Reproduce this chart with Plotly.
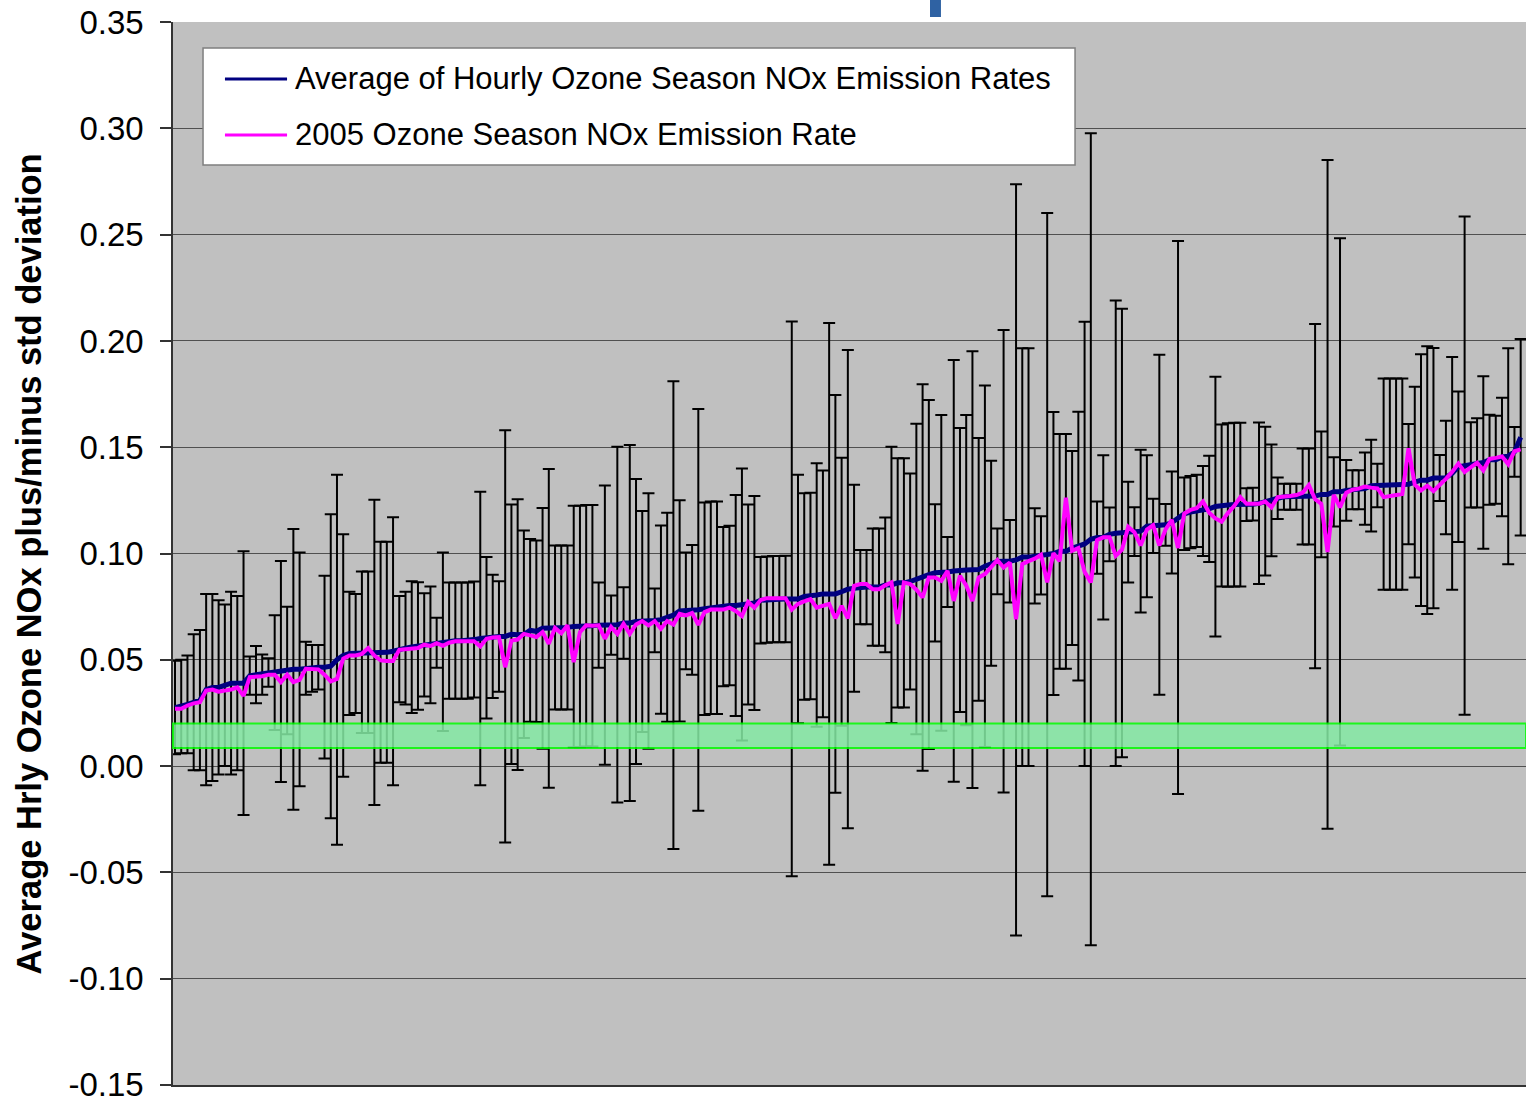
import plotly.graph_objects as go

# Unit-level ozone season NOx emission rates (lb/mmBtu), sorted by hourly average
avg_hourly = [
    0.0275, 0.028, 0.029, 0.030, 0.031, 0.036, 0.037, 0.037, 0.038, 0.039,
    0.039, 0.039, 0.0425, 0.043, 0.043, 0.044, 0.044, 0.0445, 0.045, 0.0455,
    0.0455, 0.046, 0.046, 0.0465, 0.0465, 0.047, 0.050, 0.052, 0.053, 0.053,
    0.0535, 0.0535, 0.0535, 0.0535, 0.0535, 0.054, 0.055, 0.0555, 0.056, 0.0565,
    0.057, 0.057, 0.058, 0.0585, 0.059, 0.059, 0.059, 0.059, 0.0595, 0.060,
    0.0604, 0.061, 0.061, 0.061, 0.062, 0.0618, 0.062, 0.0638, 0.0634, 0.0648,
    0.0648, 0.0652, 0.0652, 0.0652, 0.0657, 0.0657, 0.066, 0.066, 0.0663, 0.0663,
    0.0663, 0.0665, 0.0673, 0.0673, 0.068, 0.068, 0.0683, 0.0685, 0.0689, 0.070,
    0.071, 0.073, 0.073, 0.0735, 0.0735, 0.074, 0.0745, 0.0745, 0.075, 0.0755,
    0.0755, 0.076, 0.076, 0.0767, 0.078, 0.0783, 0.0785, 0.0785, 0.0786, 0.0786,
    0.0786, 0.0798, 0.080, 0.0805, 0.081, 0.081, 0.081, 0.082, 0.0832, 0.0837,
    0.0842, 0.0842, 0.0842, 0.0842, 0.0852, 0.0852, 0.0862, 0.0862, 0.0868, 0.088,
    0.0887, 0.0901, 0.0909, 0.0909, 0.0913, 0.0918, 0.0922, 0.0922, 0.0924, 0.0925,
    0.094, 0.0954, 0.0963, 0.0964, 0.0964, 0.097, 0.0983, 0.0983, 0.0989, 0.0991,
    0.0995, 0.100, 0.101, 0.101, 0.1026, 0.1035, 0.1045, 0.1067, 0.1075, 0.1076,
    0.109, 0.1095, 0.1097, 0.110, 0.1103, 0.1105, 0.1128, 0.113, 0.1135, 0.1135,
    0.1146, 0.1169, 0.1187, 0.1195, 0.120, 0.120, 0.121, 0.1221, 0.1226, 0.1228,
    0.123, 0.123, 0.123, 0.1232, 0.1236, 0.1246, 0.125, 0.126, 0.1267, 0.1267,
    0.1267, 0.1268, 0.1268, 0.127, 0.1278, 0.1278, 0.129, 0.129, 0.1297, 0.130,
    0.130, 0.1305, 0.1319, 0.132, 0.1326, 0.1326, 0.1326, 0.1326, 0.1326, 0.1336,
    0.1345, 0.1345, 0.1355, 0.1355, 0.1357, 0.1377, 0.1408, 0.1413, 0.1417, 0.1426,
    0.1428, 0.1441, 0.1441, 0.1454, 0.1458, 0.1478, 0.1547,
]

std_dev = [
    0.022, 0.022, 0.023, 0.032, 0.033, 0.045, 0.044, 0.041, 0.038, 0.043,
    0.041, 0.062, 0.009, 0.0135, 0.0095, 0.0067, 0.027, 0.052, 0.030, 0.066,
    0.055, 0.0125, 0.011, 0.0105, 0.043, 0.0715, 0.087, 0.057, 0.029, 0.028,
    0.038, 0.038, 0.0718, 0.052, 0.052, 0.063, 0.025, 0.0265, 0.031, 0.030,
    0.0243, 0.0275, 0.0118, 0.042, 0.0273, 0.0273, 0.0273, 0.0273, 0.0273, 0.069,
    0.038, 0.029, 0.026, 0.097, 0.061, 0.0637, 0.0488, 0.043, 0.0427, 0.0566,
    0.075, 0.0386, 0.0386, 0.0386, 0.0568, 0.0568, 0.0568, 0.0568, 0.0201, 0.0657,
    0.0139, 0.0837, 0.0168, 0.0837, 0.067, 0.052, 0.0601, 0.015, 0.0443, 0.0492,
    0.110, 0.052, 0.0275, 0.0305, 0.0945, 0.050, 0.050, 0.050, 0.0375, 0.0375,
    0.052, 0.064, 0.047, 0.0503, 0.0203, 0.0203, 0.0203, 0.0203, 0.0203, 0.1305,
    0.0585, 0.0486, 0.0486, 0.062, 0.058, 0.1274, 0.0936, 0.063, 0.1125, 0.0487,
    0.0175, 0.0175, 0.0276, 0.0276, 0.0317, 0.065, 0.0586, 0.0586, 0.0508, 0.073,
    0.0909, 0.0821, 0.0323, 0.0743, 0.0165, 0.0992, 0.0668, 0.073, 0.1027, 0.0618,
    0.085, 0.0482, 0.0155, 0.1088, 0.0194, 0.1767, 0.0983, 0.0983, 0.0224, 0.0184,
    0.1607, 0.0666, 0.0552, 0.0552, 0.0456, 0.0632, 0.1045, 0.191, 0.017, 0.0386,
    0.0127, 0.1095, 0.1055, 0.0237, 0.0115, 0.0383, 0.0334, 0.0128, 0.080, 0.0098,
    0.024, 0.1301, 0.017, 0.017, 0.017, 0.0212, 0.025, 0.0611, 0.0381, 0.0385,
    0.0385, 0.0385, 0.0077, 0.0077, 0.038, 0.035, 0.0263, 0.0098, 0.0061, 0.0061,
    0.0061, 0.0226, 0.0226, 0.081, 0.0296, 0.1573, 0.0163, 0.1193, 0.0143, 0.0092,
    0.0092, 0.017, 0.0216, 0.0102, 0.0497, 0.0497, 0.0497, 0.0497, 0.0283, 0.0449,
    0.0592, 0.063, 0.0612, 0.0108, 0.0267, 0.0548, 0.0354, 0.1172, 0.020, 0.021,
    0.0406, 0.0212, 0.0207, 0.0279, 0.0508, 0.0117, 0.0462,
]

rate_2005 = [
    0.027, 0.027, 0.0285, 0.0295, 0.030, 0.0355, 0.036, 0.035, 0.0355, 0.036,
    0.037, 0.033, 0.0418, 0.042, 0.0423, 0.043, 0.043, 0.0395, 0.043, 0.0395,
    0.0405, 0.0458, 0.0458, 0.0455, 0.043, 0.0398, 0.041, 0.0505, 0.052, 0.052,
    0.0528, 0.0555, 0.052, 0.0497, 0.0494, 0.0494, 0.0547, 0.055, 0.0552, 0.0555,
    0.0571, 0.0565, 0.0578, 0.0566, 0.058, 0.0587, 0.0587, 0.0587, 0.0587, 0.0563,
    0.0599, 0.0605, 0.0607, 0.0465, 0.059, 0.0595, 0.0622, 0.0615, 0.0607, 0.063,
    0.0575, 0.065, 0.0625, 0.0662, 0.0489, 0.063, 0.0662, 0.066, 0.0662, 0.0599,
    0.0654, 0.0622, 0.0669, 0.0622, 0.0666, 0.0682, 0.0662, 0.0682, 0.0646, 0.0682,
    0.0666, 0.0716, 0.0709, 0.072, 0.0664, 0.0724, 0.0736, 0.0736, 0.0736, 0.0745,
    0.073, 0.0706, 0.0772, 0.0745, 0.0781, 0.079, 0.079, 0.079, 0.079, 0.0736,
    0.0763, 0.0775, 0.0785, 0.0745, 0.0755, 0.0763, 0.0695, 0.0754, 0.0695, 0.0848,
    0.0856, 0.0856, 0.0832, 0.0832, 0.085, 0.0864, 0.0668, 0.0864, 0.0856, 0.083,
    0.0793, 0.0887, 0.0887, 0.0871, 0.0918, 0.0777, 0.0895, 0.085, 0.0777, 0.0887,
    0.0903, 0.0935, 0.0969, 0.0934, 0.0958, 0.0691, 0.095, 0.0964, 0.0976, 0.0994,
    0.0864, 0.1001, 0.0964, 0.1262, 0.1013, 0.1026, 0.0914, 0.0864, 0.1063, 0.1076,
    0.1076, 0.0989, 0.1018, 0.1125, 0.110, 0.1038, 0.1113, 0.1133, 0.1038, 0.1113,
    0.1158, 0.1026, 0.1188, 0.1205, 0.1213, 0.1244, 0.1192, 0.1165, 0.115, 0.119,
    0.1223, 0.1265, 0.1234, 0.1234, 0.1234, 0.1244, 0.1217, 0.1265, 0.127, 0.1271,
    0.1275, 0.1286, 0.1322, 0.1255, 0.1234, 0.1007, 0.1276, 0.1217, 0.1286, 0.130,
    0.1305, 0.1315, 0.131, 0.1306, 0.1265, 0.127, 0.1275, 0.128, 0.1495, 0.1324,
    0.1297, 0.1319, 0.1294, 0.132, 0.1351, 0.1384, 0.1423, 0.1384, 0.1405, 0.1427,
    0.1391, 0.1445, 0.145, 0.1456, 0.142, 0.1481, 0.149,
]

tick_values = [-0.15, -0.10, -0.05, 0.00, 0.05, 0.10, 0.15, 0.20, 0.25, 0.30, 0.35]
tick_labels = ["-0.15", "-0.10", "-0.05", "0.00", "0.05", "0.10", "0.15",
               "0.20", "0.25", "0.30", "0.35"]

series_names = ["Average of Hourly Ozone Season NOx Emission Rates",
                "2005 Ozone Season NOx Emission Rate"]
y_title = "Average Hrly Ozone NOx plus/minus std deviation"

# reference band of low emission rates
band_low, band_high = 0.0085, 0.020

assert len(avg_hourly) == len(std_dev) == len(rate_2005)
units = list(range(len(avg_hourly)))

FONT = "Liberation Sans, Arial, Helvetica, sans-serif"
NAVY = "#000080"
MAGENTA = "#FF00FF"

fig = go.Figure()

# +/- one standard deviation around each unit's hourly average
fig.add_trace(go.Scatter(
    x=units, y=avg_hourly, mode="markers",
    marker=dict(size=1, opacity=0),
    error_y=dict(type="data", array=std_dev, visible=True,
                 color="black", thickness=2, width=6),
    showlegend=False, hoverinfo="skip",
))

fig.add_trace(go.Scatter(
    x=units, y=avg_hourly, mode="lines", name=series_names[0],
    line=dict(color=NAVY, width=5), showlegend=False,
))

fig.add_trace(go.Scatter(
    x=units, y=rate_2005, mode="lines", name=series_names[1],
    line=dict(color=MAGENTA, width=4), showlegend=False,
))

shapes = [
    # low-rate band
    dict(type="rect", xref="paper", yref="y", x0=0, x1=1,
         y0=band_low, y1=band_high, layer="above",
         fillcolor="rgb(133,234,164)", opacity=0.85,
         line=dict(color="#00FF00", width=2)),
    # legend frame
    dict(type="rect", xref="paper", yref="paper",
         x0=0.0222, x1=0.6667, y0=0.8655, y1=0.9755,
         fillcolor="white", line=dict(color="#7F7F7F", width=1.5),
         layer="above"),
    # legend line samples
    dict(type="line", xref="paper", yref="paper",
         x0=0.0384, x1=0.0843, y0=0.9464, y1=0.9464,
         line=dict(color=NAVY, width=3), layer="above"),
    dict(type="line", xref="paper", yref="paper",
         x0=0.0384, x1=0.0843, y0=0.8937, y1=0.8937,
         line=dict(color=MAGENTA, width=3), layer="above"),
    # slide marker above the plot frame
    dict(type="rect", xref="paper", yref="paper",
         x0=0.5595, x1=0.5676, y0=1.0047, y1=1.03,
         fillcolor="#2F62A3", line=dict(width=0), layer="above"),
]

annotations = [
    dict(text=series_names[0], xref="paper", yref="paper",
         x=0.0887, y=0.9464, xanchor="left", yanchor="middle",
         showarrow=False, font=dict(family=FONT, size=31, color="black")),
    dict(text=series_names[1], xref="paper", yref="paper",
         x=0.0887, y=0.8937, xanchor="left", yanchor="middle",
         showarrow=False, font=dict(family=FONT, size=31, color="black")),
    dict(text="<b>" + y_title + "</b>", xref="paper", yref="paper",
         x=-0.1057, y=0.4906, xanchor="center", yanchor="middle",
         textangle=-90, showarrow=False,
         font=dict(family=FONT, size=34.5, color="black")),
]

x_step = 6.23
x_min = -2 / x_step
x_max = x_min + 1353 / x_step

fig.update_layout(
    width=1526, height=1100,
    margin=dict(l=173, r=0, t=22, b=15, autoexpand=False),
    paper_bgcolor="white", plot_bgcolor="#C0C0C0",
    font=dict(family=FONT, color="black"),
    showlegend=False,
    shapes=shapes, annotations=annotations,
    xaxis=dict(range=[x_min, x_max], showticklabels=False, ticks="",
               showgrid=False, zeroline=False, automargin=False,
               showline=True, linecolor="#333333", linewidth=2),
    yaxis=dict(range=[-0.15005, 0.35005], tickvals=tick_values, ticktext=tick_labels,
               tickfont=dict(family=FONT, size=33, color="black"),
               ticks="outside", ticklen=11, tickwidth=1.5, tickcolor="#333333",
               ticklabelstandoff=10, ticklabeloverflow="allow", automargin=False,
               showgrid=True, gridcolor="#505050", gridwidth=1,
               zeroline=False, showline=True, linecolor="#333333", linewidth=1.5),
)

fig.write_html("out.html")
